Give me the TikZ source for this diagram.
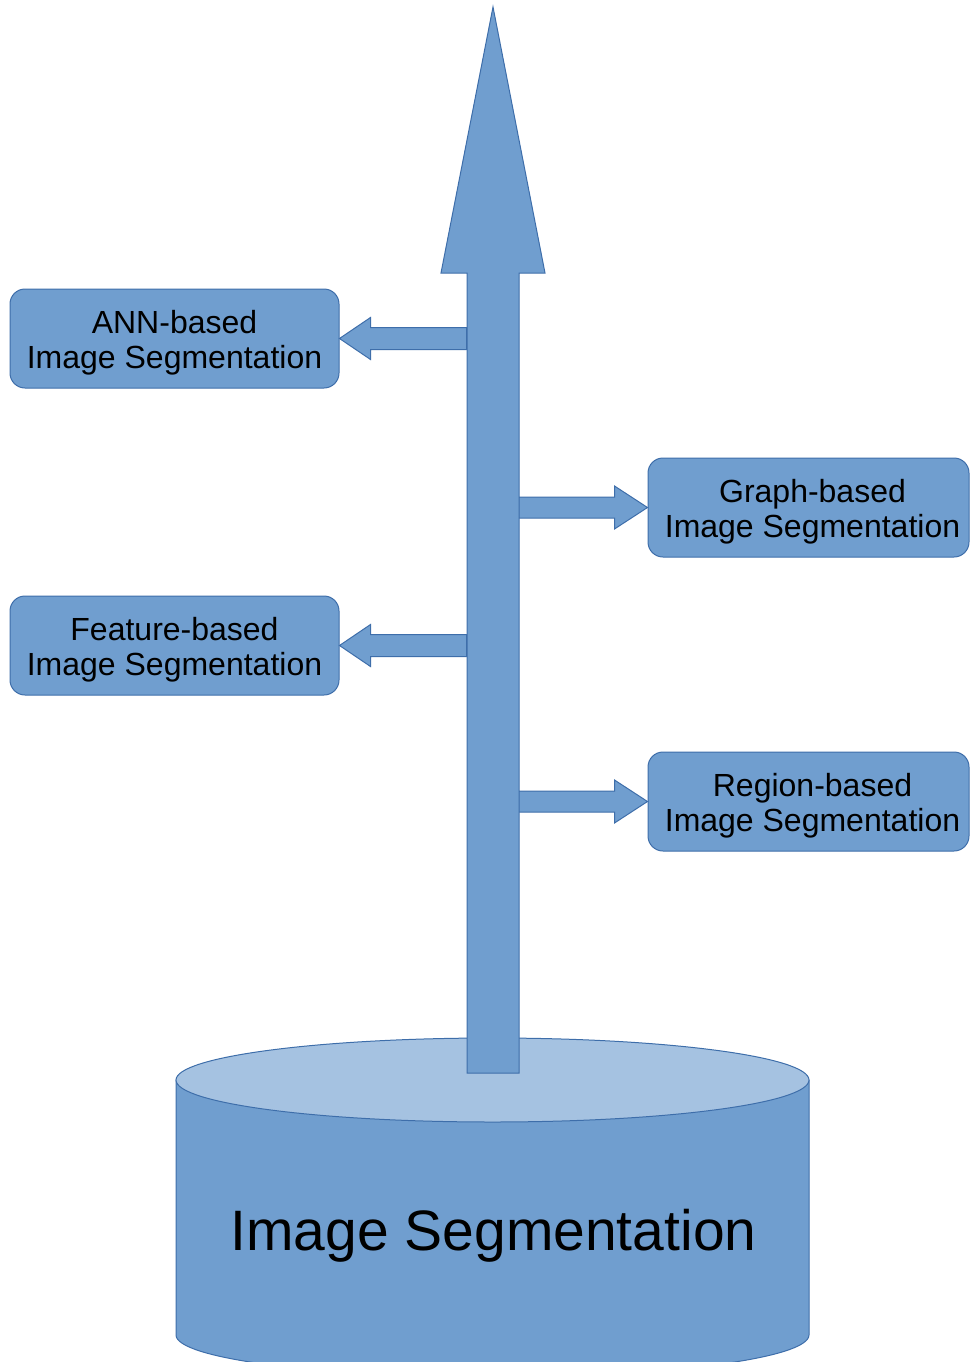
\documentclass[tikz,border=0pt]{standalone}
\usepackage{fontspec}
\setmainfont{Liberation Sans}
\definecolor{blockfill}{RGB}{112,158,207}
\definecolor{blockline}{RGB}{62,110,170}
\definecolor{capfill}{RGB}{165,194,225}
\tikzset{
  blockshape/.style={fill=blockfill, draw=blockline, line width=1pt, line join=miter},
  method/.style={blockshape, rounded corners=15pt, minimum width=329pt, minimum height=99pt,
    inner sep=0pt},
  methodtext/.style={inner sep=0pt, align=center, text=black, font=\fontsize{32}{35.5}\selectfont},
  bigtitle/.style={text=black, inner sep=0pt, font=\fontsize{57}{68}\selectfont},
}
\begin{document}
\begin{tikzpicture}[x=1pt, y=-1pt]
  \useasboundingbox (0,0) rectangle (970,1362);
  \clip (0,0) rectangle (970,1362);

  % cylinder body with rounded bottom
  \path[blockshape] (176,1080) -- (176,1335)
    .. controls (176,1358.2) and (317.7,1377) .. (492.5,1377)
    .. controls (667.3,1377) and (809,1358.2) .. (809,1335)
    -- (809,1080) -- cycle;
  % cylinder lid
  \path[blockshape, fill=capfill] (492.5,1080) ellipse [x radius=316.5, y radius=42];
  \node[bigtitle, anchor=base] (base) at (493.5,1250) {Image Segmentation};

  % method boxes
  \node[method] (ann) at (174.5,338.5) {};
  \node[method] (feature) at (174.5,645.5) {};
  \node[method, minimum width=321pt] (graph) at (808.5,507.5) {};
  \node[method, minimum width=321pt] (region) at (808.5,801.5) {};
  \node[methodtext] (ann-text) at ([yshift=-4pt]ann.center) {ANN-based\\Image Segmentation};
  \node[methodtext] (feature-text) at ([yshift=-4pt]feature.center) {Feature-based\\Image Segmentation};
  \node[methodtext] (graph-text) at ([xshift=4pt,yshift=-4pt]graph.center) {Graph-based\\Image Segmentation};
  \node[methodtext] (region-text) at ([xshift=4pt,yshift=-4pt]region.center) {Region-based\\Image Segmentation};

  % branch arrows to the left
  \foreach \b in {ann, feature}
    \path[blockshape] (\b.east) -- ++(31,-21) -- ++(0,10) -- ++(96,0) -- ++(0,22)
      -- ++(-96,0) -- ++(0,10) -- cycle;
  % branch arrows to the right
  \foreach \b in {graph, region}
    \path[blockshape] (\b.west) -- ++(-33,-21.5) -- ++(0,11) -- ++(-96,0) -- ++(0,21)
      -- ++(96,0) -- ++(0,11) -- cycle;

  % main upward arrow rising out of the cylinder
  \coordinate (tip) at (493,7);
  \path[blockshape] (tip) -- (545,273) -- (519,273) -- (519,1073) -- (467,1073)
    -- (467,273) -- (441,273) -- cycle;
\end{tikzpicture}
\end{document}
